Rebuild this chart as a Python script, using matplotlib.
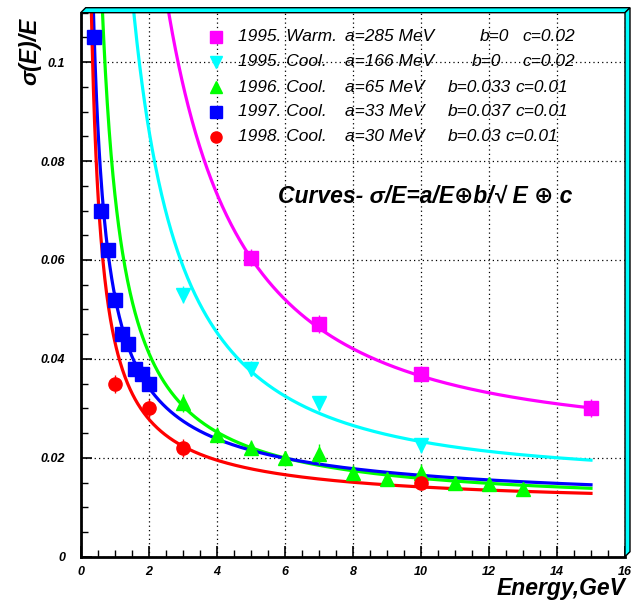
import numpy as np
import matplotlib
matplotlib.use("Agg")
import matplotlib.pyplot as plt
from matplotlib.patches import Polygon
from matplotlib.ticker import MultipleLocator, FuncFormatter

plt.rcParams['font.family'] = ['Liberation Sans', 'DejaVu Sans']

# measured points (energy in GeV, sigma/E)
e_95w = [5, 7, 10, 15]
s_95w = [0.0605, 0.047, 0.037, 0.030]
err_95w = [0.0018, 0.0018, 0.0015, 0.0018]

e_95c = [3, 5, 7, 10]
s_95c = [0.053, 0.038, 0.031, 0.0225]
err_95c = [0.0018, 0.0015, 0.0015, 0.0015]

e_96 = [3, 4, 5, 6, 7, 8, 9, 10, 11, 12, 13]
s_96 = [0.031, 0.0247, 0.022, 0.0199, 0.0208, 0.017, 0.0157, 0.017, 0.0149, 0.0147, 0.0137]
err_96 = [0.0018, 0.0015, 0.0015, 0.0015, 0.002, 0.0015, 0.0015, 0.0018, 0.0015, 0.0015, 0.0015]

e_97 = [0.4, 0.6, 0.8, 1.0, 1.2, 1.4, 1.6, 1.8, 2.0]
s_97 = [0.105, 0.070, 0.062, 0.052, 0.045, 0.043, 0.038, 0.037, 0.035]
err_97 = [0.0015, 0.0015, 0.0015, 0.0015, 0.0015, 0.0015, 0.0015, 0.0015, 0.0015]

e_98 = [1, 2, 3, 10]
s_98 = [0.035, 0.030, 0.022, 0.015]
err_98 = [0.0018, 0.0018, 0.0018, 0.0012]

# curve parameters a (GeV), b, c as drawn
fit_a = [0.278, 0.170, 0.065, 0.033, 0.030]
fit_b = [0.0, 0.0, 0.033, 0.040, 0.030]
fit_c = [0.0237, 0.0159, 0.010, 0.010, 0.010]

colors = ["#ff00ff", "#00ffff", "#00ff00", "#0000ff", "#ff0000"]
markers = ["s", "v", "^", "s", "o"]
leg_year = ["1995. Warm.", "1995. Cool.", "1996. Cool.", "1997. Cool.", "1998. Cool."]
leg_a = ["a=285 MeV", "a=166 MeV", "a=65 MeV", "a=33 MeV", "a=30 MeV"]
leg_b = ["b=0", "b=0", "b=0.033", "b=0.037", "b=0.03"]
leg_c = ["c=0.02", "c=0.02", "c=0.01", "c=0.01", "c=0.01"]

W, H = 639, 603
L, R, T, B = 80.7, 625.0, 12.7, 556.7

fig = plt.figure(figsize=(W / 100, H / 100), dpi=100)
ax = fig.add_axes([L / W, 1 - B / H, (R - L) / W, (B - T) / H])


def ax_frac(px, py):
    return (px - L) / (R - L), (B - py) / (B - T)


def fig_frac(px, py):
    return px / W, 1 - py / H


# fit curves
E = np.linspace(0.15, 15, 800)
for a, b, c, col in zip(fit_a, fit_b, fit_c, colors):
    s = np.sqrt((a / E) ** 2 + (b / np.sqrt(E)) ** 2 + c ** 2)
    ax.plot(E, s, color=col, lw=2.3, zorder=3)

series = [(e_95w, s_95w, err_95w), (e_95c, s_95c, err_95c), (e_96, s_96, err_96),
          (e_97, s_97, err_97), (e_98, s_98, err_98)]
for (x, y, err), col, m in zip(series, colors, markers):
    ax.errorbar(x, y, yerr=err, fmt=m, color=col, ms=9.5, mec=col,
                elinewidth=1, capsize=0, zorder=4)

ax.set_xlim(0, 16)
ax.set_ylim(0, 0.11)
ax.xaxis.set_major_locator(MultipleLocator(2))
ax.xaxis.set_minor_locator(MultipleLocator(0.5))
ax.yaxis.set_major_locator(MultipleLocator(0.02))
ax.yaxis.set_minor_locator(MultipleLocator(0.005))
fmt = FuncFormatter(lambda v, p: f"{v:g}")
ax.xaxis.set_major_formatter(fmt)
ax.yaxis.set_major_formatter(fmt)
ax.tick_params(which="major", direction="in", length=8, width=1.2, labelsize=9)
ax.tick_params(which="minor", direction="in", length=5, width=1)
ax.tick_params(axis="y", pad=11)
ax.tick_params(axis="x", pad=7)
for lab in ax.get_xticklabels() + ax.get_yticklabels():
    lab.set_fontweight("bold")
    lab.set_fontstyle("italic")
ax.grid(True, which="major", color="black", linestyle=(0, (1, 2.5)), lw=0.9)
for sp in ["top", "right"]:
    ax.spines[sp].set_visible(False)
for sp in ["left", "bottom"]:
    ax.spines[sp].set_linewidth(2)

# raised cyan frame on top and right
d = 5
top_band = [fig_frac(L, T), fig_frac(L + d, T - d), fig_frac(R + d, T - d), fig_frac(R, T)]
right_band = [fig_frac(R, T), fig_frac(R + d, T - d), fig_frac(R + d, B - d), fig_frac(R, B)]
for pts in (top_band, right_band):
    fig.add_artist(Polygon(pts, closed=True, facecolor="#00ffff", edgecolor="black",
                           lw=1, transform=fig.transFigure))

# legend built by hand
row_y = [36.7, 61.7, 87.0, 112.0, 136.7]
xb = [480, 472, 448, 448, 448]
xc = [522, 522, 515, 515, 505]
for i in range(5):
    mx, my = ax_frac(216, row_y[i])
    ax.plot([mx], [my], marker=markers[i], color=colors[i], ms=8,
            transform=ax.transAxes, clip_on=False, zorder=5)
    kw = dict(fontsize=12.5, style="italic", va="center", ha="left", zorder=5)
    fig.text(*fig_frac(238, row_y[i]), leg_year[i], **kw)
    fig.text(*fig_frac(345, row_y[i]), leg_a[i], **kw)
    fig.text(*fig_frac(xb[i], row_y[i]), leg_b[i], **kw)
    fig.text(*fig_frac(xc[i], row_y[i]), leg_c[i], **kw)

fig.text(*fig_frac(278, 203), "Curves- σ/E=a/E⊕b/√ E ⊕ c", fontsize=16.5,
         weight="bold", style="italic", ha="left", va="baseline")

fig.text(*fig_frac(30, 18), "σ(E)/E", rotation=90, ha="center", va="top",
         fontsize=16.5, weight="bold", style="italic")
fig.text(*fig_frac(625, 595), "Energy,GeV", ha="right", va="baseline",
         fontsize=16.5, weight="bold", style="italic")

fig.savefig("out.png", dpi=100)
